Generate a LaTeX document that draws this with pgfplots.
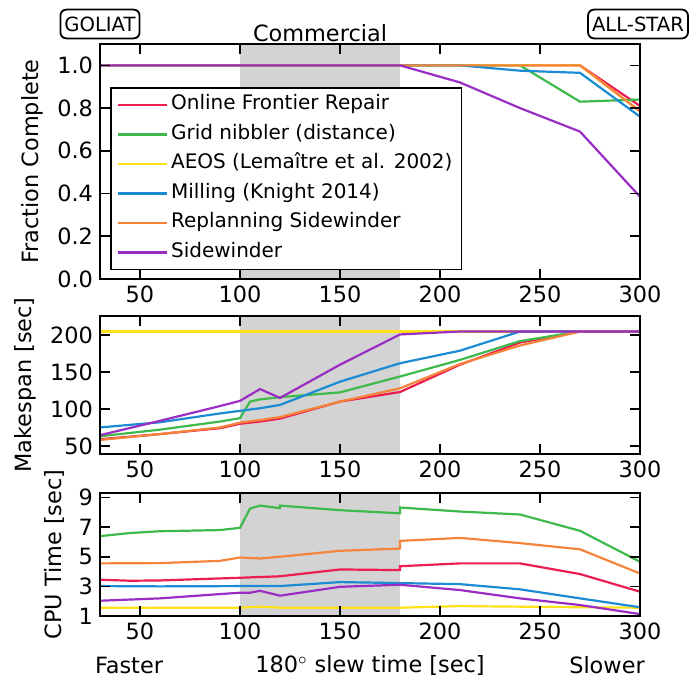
\documentclass[border=0pt]{standalone}
\usepackage{fontspec}
\setmainfont{DejaVu Sans}
\usepackage{pgfplots}
\pgfplotsset{compat=1.18}

\definecolor{cred}{HTML}{EC1D50}
\definecolor{cgreen}{HTML}{3EB94B}
\definecolor{cyellow}{HTML}{FFE11A}
\definecolor{cblue}{HTML}{1B8CD4}
\definecolor{corange}{HTML}{F5843A}
\definecolor{cpurple}{HTML}{9A2DC4}
\definecolor{cshade}{HTML}{D3D3D3}

\newcommand{\fs}{\fontsize{11.2}{13}\selectfont}
\newcommand{\fsl}{\fontsize{10}{12}\selectfont}
\newcommand{\fsb}{\fontsize{9.8}{12}\selectfont}

\pgfplotsset{
  panel/.style={
    width=270pt, scale only axis,
    xmin=30, xmax=300, xtick={50,100,...,300},
    axis on top,
    axis line style={line width=0.9pt},
    major tick style={line width=0.8pt, black},
    major tick length=5pt,
    tick label style={font=\fs},
    label style={font=\fs},
    /pgf/number format/assume math mode=true,
    every axis plot/.append style={line width=1.1pt},
  },
}

\begin{document}
\begin{tikzpicture}

% ---- fraction complete
\begin{axis}[panel, name=top, at={(0,0)}, anchor=north west,
  height=117.5pt, ymin=0, ymax=1.1, ytick={0,0.2,...,1.0},
  yticklabel style={/pgf/number format/.cd, fixed, fixed zerofill, precision=1},
  ylabel={Fraction Complete},
  legend style={at={(0.0185,0.817)}, anchor=north west, draw=black,
    line width=0.9pt, font=\fsl, row sep=1.75pt, inner xsep=3pt, inner ysep=2pt,
    nodes={inner sep=1.5pt, text depth=0.25em, text height=0.75em}},
  legend cell align=left,
  legend image code/.code={\path (-1pt,0pt) -- (23.5pt,0pt); \draw[#1] (0pt,0pt) -- (15pt,0pt);},
]
\fill[cshade] ({axis cs:100,0}|-{rel axis cs:0,0}) rectangle ({axis cs:180,0}|-{rel axis cs:0,1});
\addplot[cred] coordinates {(30,1) (180,1) (270,1) (300,0.81)};
\addlegendentry{Online Frontier Repair}
\addplot[cgreen] coordinates {(30,1) (180,1) (240,1) (270,0.83) (300,0.84)};
\addlegendentry{Grid nibbler (distance)}
\addplot[cyellow] coordinates {(30,1) (180,1) (270,1) (300,0.785)};
\addlegendentry{AEOS (Lemaître et al. 2002)}
\addplot[cblue] coordinates {(30,1) (180,1) (210,1) (240,0.975) (270,0.965) (300,0.76)};
\addlegendentry{Milling (Knight 2014)}
\addplot[corange] coordinates {(30,1) (180,1) (270,1) (300,0.785)};
\addlegendentry{Replanning Sidewinder}
\addplot[cpurple] coordinates {(30,1) (180,1) (210,0.92) (240,0.80) (270,0.69) (300,0.385)};
\addlegendentry{Sidewinder}
\end{axis}

% ---- makespan
\begin{axis}[panel, name=mid, at={(0,-136pt)}, anchor=north west,
  height=69pt, ymin=39, ymax=226, ytick={50,100,150,200},
  ylabel={Makespan [sec]},
]
\fill[cshade] ({axis cs:100,0}|-{rel axis cs:0,0}) rectangle ({axis cs:180,0}|-{rel axis cs:0,1});
\addplot[cred] coordinates {(30,59) (60,66) (90,74) (100,80) (110,83) (120,87) (150,110) (180,123) (210,160) (240,190) (270,205) (300,205)};
\addplot[cgreen] coordinates {(30,63) (60,72) (90,83) (100,87.5) (105,110) (110,113) (120,116) (150,122.5) (180,144) (210,166.5) (240,192) (270,205) (300,205)};
\addplot[cyellow] coordinates {(30,205) (100,205) (180,205) (300,205)};
\addplot[cblue] coordinates {(30,75) (60,82) (90,94) (100,97.5) (110,101) (120,105.5) (150,137) (180,162) (210,179) (240,205) (270,205) (300,205)};
\addplot[corange] coordinates {(30,58) (60,66) (90,75) (100,81.5) (110,85) (120,89) (150,110) (180,128) (210,161) (240,186) (270,205) (300,205)};
\addplot[cpurple] coordinates {(30,64.5) (60,84) (90,104) (100,111) (110,127) (120,115) (150,160) (180,201) (210,205) (240,205) (270,205) (300,205)};
\end{axis}

% ---- cpu time
\begin{axis}[panel, name=bot, at={(0,-224.5pt)}, anchor=north west,
  height=61.5pt, ymin=1, ymax=9.3, ytick={1,3,5,7,9},
  ylabel={CPU Time [sec]},
  xlabel={180$^{\circ}$\ slew time [sec]},
  xlabel style={at={(axis description cs:0.5,0)}, anchor=center, yshift=-24.5pt},
]
\fill[cshade] ({axis cs:100,0}|-{rel axis cs:0,0}) rectangle ({axis cs:180,0}|-{rel axis cs:0,1});
\addplot[cred] coordinates {(30,3.45) (45,3.38) (60,3.4) (100,3.58) (120,3.68) (150,4.14) (180,4.1) (180,4.36) (210,4.55) (240,4.55) (270,3.83) (300,2.64)};
\addplot[cgreen] coordinates {(30,6.39) (45,6.6) (60,6.72) (90,6.8) (100,6.95) (105,8.25) (110,8.45) (120,8.28) (120,8.45) (150,8.14) (180,7.93) (180,8.32) (210,8.05) (240,7.85) (270,6.75) (300,4.66)};
\addplot[cyellow] coordinates {(30,1.56) (100,1.56) (110,1.63) (120,1.56) (180,1.56) (210,1.67) (240,1.63) (270,1.59) (300,1.56)};
\addplot[cblue] coordinates {(30,3.02) (60,3.0) (100,3.02) (120,3.02) (150,3.29) (180,3.22) (210,3.15) (240,2.8) (270,2.19) (300,1.59)};
\addplot[corange] coordinates {(30,4.55) (60,4.57) (90,4.72) (100,4.95) (110,4.88) (120,5.0) (150,5.4) (180,5.55) (180,6.07) (210,6.27) (240,5.92) (270,5.5) (300,3.87)};
\addplot[cpurple] coordinates {(30,2.03) (60,2.19) (90,2.48) (100,2.57) (105,2.57) (110,2.7) (120,2.37) (150,2.97) (180,3.11) (210,2.75) (240,2.19) (270,1.74) (300,1.13)};
\end{axis}

% ---- annotations
\node[draw, rounded corners=3pt, line width=0.9pt, inner xsep=2pt, inner ysep=3.5pt, font=\fsb, fill=white] at (0pt,10pt) {GOLIAT};
\node[draw, rounded corners=3pt, line width=0.9pt, inner xsep=2pt, inner ysep=3.5pt, font=\fsb, fill=white] at (269pt,10pt) {ALL-STAR};
\node[font=\fs, anchor=base, inner sep=0pt] at (110pt,1.5pt) {Commercial};
\node[font=\fs] at (14.5pt,-310.5pt) {Faster};
\node[font=\fs] at (253.5pt,-310.5pt) {Slower};
\path (-50pt,22pt) rectangle (298pt,-320.5pt);
\end{tikzpicture}
\end{document}
